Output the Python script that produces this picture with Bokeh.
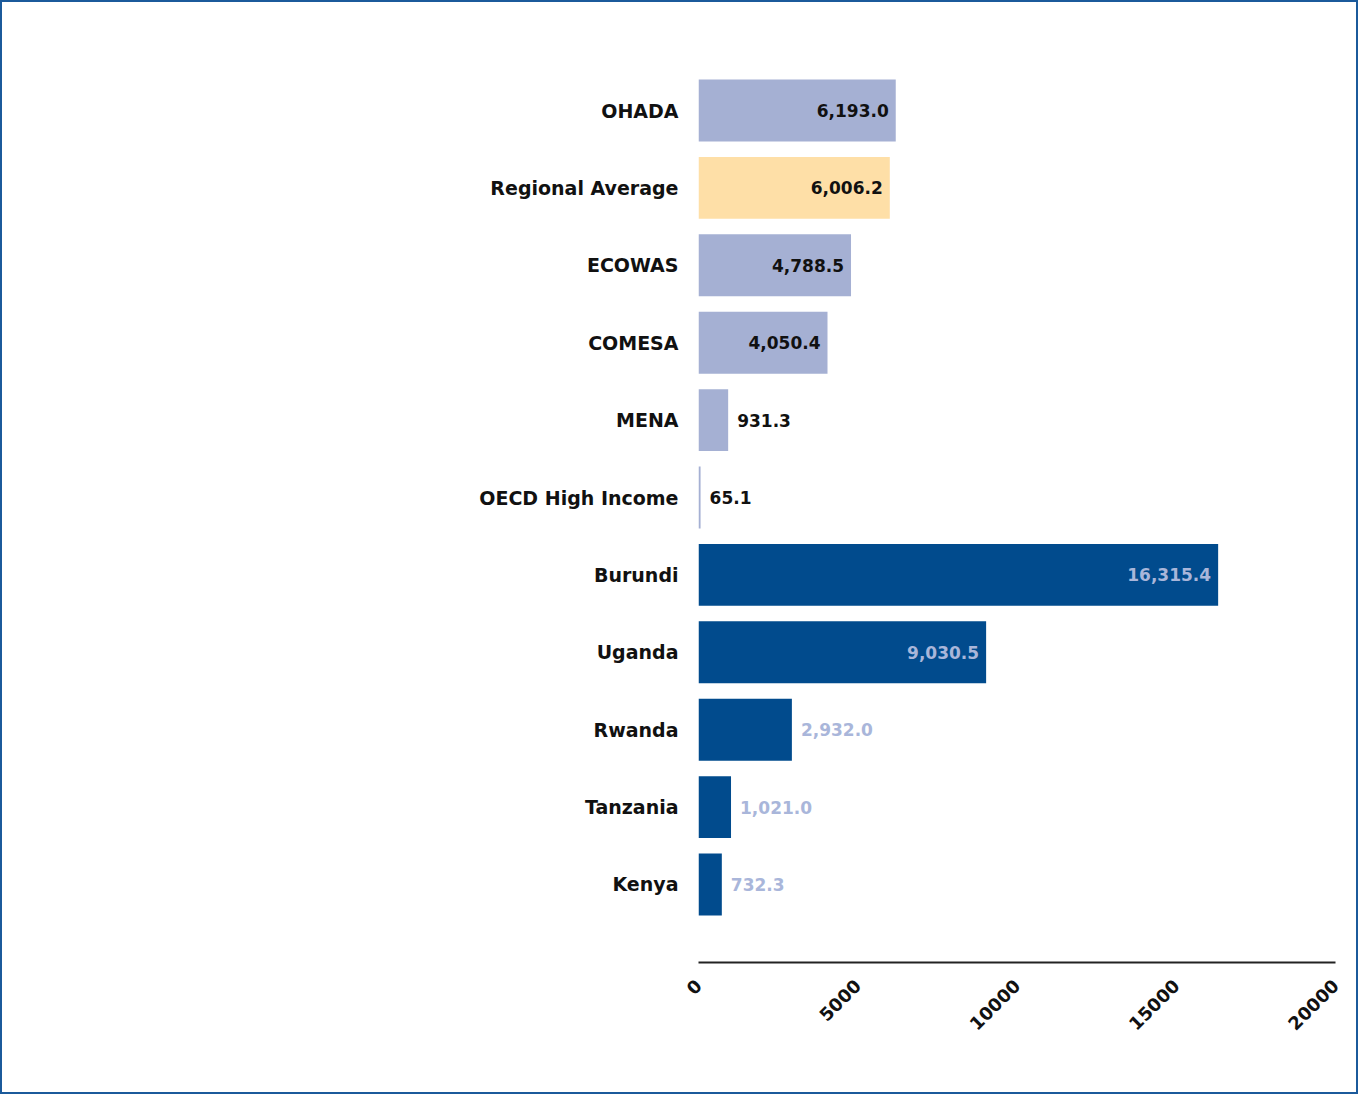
import math
from bokeh.plotting import figure
from bokeh.models import ColumnDataSource, Range1d, FactorRange, FixedTicker
from bokeh.core.properties import value
from bokeh.embed import file_html
from bokeh.resources import INLINE

# ---- data ----
categories = ["OHADA", "Regional Average", "ECOWAS", "COMESA", "MENA", "OECD High Income",
              "Burundi", "Uganda", "Rwanda", "Tanzania", "Kenya"]
values = [6193.0, 6006.2, 4788.5, 4050.4, 931.3, 65.1, 16315.4, 9030.5, 2932.0, 1021.0, 732.3]
groups = ["bench", "avg", "bench", "bench", "bench", "bench",
          "country", "country", "country", "country", "country"]
x_ticks = [0, 5000, 10000, 15000, 20000]

# ---- styling ----
bar_colors = {"bench": "#a5b0d3", "avg": "#fedfa7", "country": "#014b8d"}
label_colors = {"bench": "#111111", "avg": "#111111", "country": "#a9b6da"}
inside_threshold = 4000
FONT = "DejaVu Sans"

colors = [bar_colors[g] for g in groups]
source = ColumnDataSource(dict(cat=categories, val=values, color=colors))

p = figure(width=1358, height=1094, output_backend="svg", toolbar_location=None,
           x_range=Range1d(0, 20000),
           y_range=FactorRange(factors=list(reversed(categories)),
                               range_padding=0.508, range_padding_units="absolute"),
           min_border_left=696, min_border_right=25, min_border_top=30, min_border_bottom=134)
p.styles = {"border": "2px solid #1b5a9b", "box-sizing": "border-box"}

p.hbar(y="cat", right="val", left=0, height=0.8, color="color", line_color=None, source=source)

# value labels
ins = [i for i, v in enumerate(values) if v > inside_threshold]
outs = [i for i, v in enumerate(values) if v <= inside_threshold]
src_in = ColumnDataSource(dict(cat=[categories[i] for i in ins], val=[values[i] for i in ins],
                               txt=["{:,.1f}".format(values[i]) for i in ins],
                               col=[label_colors[groups[i]] for i in ins]))
src_out = ColumnDataSource(dict(cat=[categories[i] for i in outs], val=[values[i] for i in outs],
                                txt=["{:,.1f}".format(values[i]) for i in outs],
                                col=[label_colors[groups[i]] for i in outs]))
p.text(x="val", y="cat", text="txt", source=src_in, text_align="right", text_baseline="middle",
       x_offset=-7, text_color="col", text_font=value(FONT), text_font_style="bold",
       text_font_size="17px")
p.text(x="val", y="cat", text="txt", source=src_out, text_align="left", text_baseline="middle",
       x_offset=9, text_color="col", text_font=value(FONT), text_font_style="bold",
       text_font_size="17px")

# axes
p.grid.visible = False
p.outline_line_color = None

p.yaxis.axis_line_color = None
p.yaxis.major_tick_line_color = None
p.yaxis.minor_tick_line_color = None
p.yaxis.major_label_standoff = 14
p.yaxis.major_label_text_font = FONT
p.yaxis.major_label_text_font_style = "bold"
p.yaxis.major_label_text_font_size = "19px"
p.yaxis.major_label_text_color = "#111111"

p.xaxis.ticker = FixedTicker(ticks=x_ticks)
p.xaxis.axis_line_color = "#222222"
p.xaxis.axis_line_width = 2
p.xaxis.major_tick_line_color = None
p.xaxis.minor_tick_line_color = None
p.xaxis.major_label_orientation = math.pi / 4
p.xaxis.major_label_standoff = 14
p.xaxis.major_label_text_font = FONT
p.xaxis.major_label_text_font_style = "bold"
p.xaxis.major_label_text_font_size = "18px"
p.xaxis.major_label_text_color = "#111111"

open("out.html", "w").write(file_html(p, INLINE))
